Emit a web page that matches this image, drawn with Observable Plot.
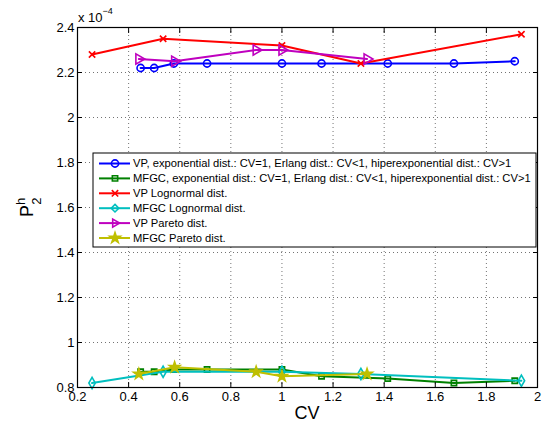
<!DOCTYPE html>
<html><head><meta charset="utf-8">
<script src="https://cdn.jsdelivr.net/npm/d3@7"></script>
<script src="https://cdn.jsdelivr.net/npm/@observablehq/plot@0.6"></script>
<style>body{margin:0;background:#fff;} #chart{position:relative;width:547px;height:423px;}</style>
</head><body><div id="chart"></div>
<script>
// ---- data (P2^h in units of 1e-4) ----
const cvErlang = [0.447, 0.5, 0.577, 0.707, 1, 1.155, 1.414, 1.673, 1.911];
const vpExp    = [2.22, 2.22, 2.24, 2.24, 2.24, 2.24, 2.24, 2.24, 2.25];
const mfgcExp  = [0.87, 0.87, 0.88, 0.88, 0.88, 0.85, 0.84, 0.82, 0.83];
const cvLogn   = [0.257, 0.535, 1, 1.309, 1.937];
const vpLogn   = [2.28, 2.35, 2.32, 2.24, 2.37];
const mfgcLogn = [0.82, 0.87, 0.87, 0.86, 0.83];
const cvPareto   = [0.44, 0.58, 0.899, 1, 1.333];
const vpPareto   = [2.26, 2.25, 2.30, 2.30, 2.26];
const mfgcPareto = [0.86, 0.89, 0.87, 0.85, 0.86];
const legendLabels = [
  "VP, exponential dist.: CV=1, Erlang dist.: CV<1, hiperexponential dist.: CV>1",
  "MFGC, exponential dist.: CV=1, Erlang dist.: CV<1, hiperexponential dist.: CV>1",
  "VP Lognormal dist.",
  "MFGC Lognormal dist.",
  "VP Pareto dist.",
  "MFGC Pareto dist."
];
const xTicks = [0.2, 0.4, 0.6, 0.8, 1, 1.2, 1.4, 1.6, 1.8, 2];
const yTicks = [0.8, 1, 1.2, 1.4, 1.6, 1.8, 2, 2.2, 2.4];

const font = "'Liberation Sans', Arial, Helvetica, sans-serif";
const series = [
  {cv: cvErlang, p: vpExp,     color: "#0000ff", symbol: "circle",   rotate: 0,  fill: "none", r: 3.6},
  {cv: cvErlang, p: mfgcExp,   color: "#008000", symbol: "square",   rotate: 0,  fill: "none", r: 3.0},
  {cv: cvLogn,   p: vpLogn,    color: "#ff0000", symbol: "times",    rotate: 0,  fill: "none", r: 3.0},
  {cv: cvLogn,   p: mfgcLogn,  color: "#00bfbf", symbol: "diamond",  rotate: 0,  fill: "none", r: 3.4},
  {cv: cvPareto, p: vpPareto,  color: "#bf00bf", symbol: "triangle", rotate: 90, fill: "none", r: 3.8},
  {cv: cvPareto, p: mfgcPareto,color: "#bfbf00", symbol: "star",     rotate: 0,  fill: "#bfbf00", r: 3.3}
];

const marks = [
  Plot.gridX(xTicks, {stroke: "#000", strokeOpacity: 0.55, strokeDasharray: "1,3"}),
  Plot.gridY(yTicks, {stroke: "#000", strokeOpacity: 0.55, strokeDasharray: "1,3"})
];
series.forEach(s => {
  const d = s.cv.map((cv, j) => ({cv, p: s.p[j]}));
  marks.push(Plot.line(d, {x: "cv", y: "p", stroke: s.color, strokeWidth: 2}));
  marks.push(Plot.dot(d, {x: "cv", y: "p", symbol: () => s.symbol, r: s.r, stroke: s.color,
    fill: s.fill, strokeWidth: 1.6, rotate: s.rotate}));
});
marks.push(
  Plot.axisX(xTicks, {anchor: "bottom", tickSize: -5, tickPadding: 9, tickFormat: d => String(d), fontSize: 13, label: null}),
  Plot.axisX(xTicks, {anchor: "top", tickSize: -5, tickFormat: () => "", label: null}),
  Plot.axisY(yTicks, {anchor: "left", tickSize: -5, tickPadding: 8, tickFormat: d => String(d), fontSize: 13, label: null}),
  Plot.axisY(yTicks, {anchor: "right", tickSize: -5, tickFormat: () => "", label: null}),
  Plot.frame({stroke: "#000", strokeWidth: 1.2})
);

const chart = Plot.plot({
  width: 547, height: 423,
  marginLeft: 77, marginRight: 10, marginTop: 27, marginBottom: 36,
  x: {domain: [0.2, 2]},
  y: {domain: [0.8, 2.4]},
  symbol: {type: "identity"},
  style: {fontFamily: font, fontSize: "13px", color: "#000", background: "#fff"},
  marks
});
document.getElementById("chart").appendChild(chart);

const svg = d3.select(chart);
// x10^-4 multiplier
const mult = svg.append("text").attr("x", 78).attr("y", 22).attr("text-anchor", "start")
  .attr("font-size", 13).attr("font-family", font).attr("fill", "#000");
mult.append("tspan").text("x 10");
mult.append("tspan").attr("dy", -8).attr("font-size", 9).text("\u22124");
// x label
svg.append("text").attr("x", 307).attr("y", 419).attr("text-anchor", "middle")
  .attr("font-size", 18).attr("font-family", font).attr("fill", "#000").text("CV");
// y label P^h_2
const yl = svg.append("text").attr("transform", "translate(33,217) rotate(-90)").attr("text-anchor", "start")
  .attr("font-size", 18).attr("font-family", font).attr("fill", "#000");
yl.append("tspan").text("P");
yl.append("tspan").attr("dy", -8).attr("font-size", 13).text("h");
yl.append("tspan").attr("dx", -7).attr("dy", 16).attr("font-size", 13).text("2");

// legend
const lg = svg.append("g").attr("transform", "translate(93,153)");
lg.append("rect").attr("width", 443).attr("height", 94).attr("fill", "#fff").attr("stroke", "#000").attr("stroke-width", 1);
const d3sym = {circle: d3.symbolCircle, square: d3.symbolSquare, times: d3.symbolTimes,
  diamond: d3.symbolDiamond2, triangle: d3.symbolTriangle2, star: d3.symbolStar};
series.forEach((s, i) => {
  const row = lg.append("g").attr("transform", `translate(0,${10.5 + i * 14.9})`);
  row.append("line").attr("x1", 6).attr("x2", 37).attr("stroke", s.color).attr("stroke-width", 2);
  row.append("path").attr("d", d3.symbol(d3sym[s.symbol], s.r * s.r * Math.PI)())
    .attr("transform", `translate(22,0) rotate(${s.rotate})`)
    .attr("stroke", s.color).attr("stroke-width", 1.6).attr("fill", s.fill);
  row.append("text").attr("x", 40).attr("dy", "0.35em").attr("text-anchor", "start")
    .attr("font-size", 11.2).attr("font-family", font)
    .attr("fill", "#000").text(legendLabels[i]);
});
</script></body></html>
